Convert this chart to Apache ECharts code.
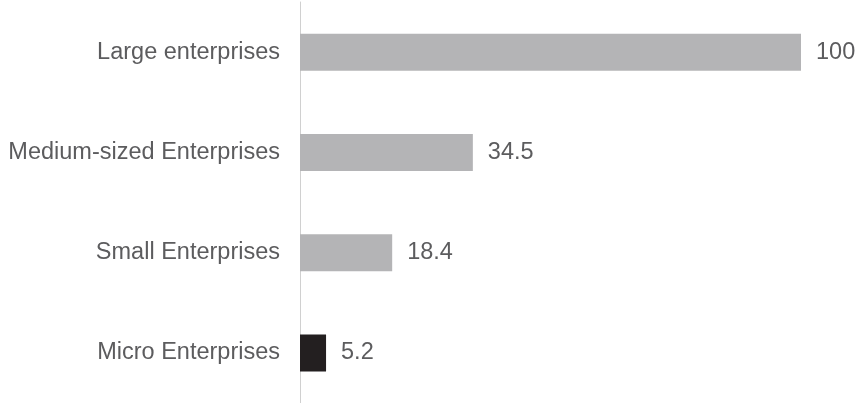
<!DOCTYPE html>
<html>
<head>
<meta charset="utf-8">
<script src="https://cdn.jsdelivr.net/npm/echarts@6/dist/echarts.min.js"></script>
<style>
  html, body { margin: 0; padding: 0; background: #ffffff; }
  #chart { width: 859px; height: 403px; }
</style>
</head>
<body>
<div id="chart"></div>
<script>
// Enterprise size classes, listed top to bottom
const categories = ['Large enterprises', 'Medium-sized Enterprises', 'Small Enterprises', 'Micro Enterprises'];
// Index values (large enterprises = 100)
const values = [100, 34.5, 18.4, 5.2];
// Fill per bar: the micro class is highlighted
const barColors = ['#b4b4b6', '#b4b4b6', '#b4b4b6', '#231f20'];

const chart = echarts.init(document.getElementById('chart'), null, { renderer: 'canvas' });

chart.setOption({
  animation: false,
  backgroundColor: '#ffffff',
  grid: { left: 300, width: 501, top: 2, height: 404, containLabel: false },
  xAxis: {
    type: 'value',
    min: 0,
    max: 100,
    show: false
  },
  yAxis: {
    type: 'category',
    inverse: true,
    data: categories,
    axisLine: { show: true, lineStyle: { color: '#d0d0d0', width: 1 } },
    axisTick: { show: false },
    splitLine: { show: false },
    axisLabel: {
      margin: 20,
      color: '#5c5c5e',
      fontSize: 23.5,
      fontFamily: 'Liberation Sans, Arial, sans-serif'
    }
  },
  series: [{
    type: 'bar',
    data: values.map((v, i) => ({ value: v, itemStyle: { color: barColors[i] } })),
    barWidth: 37,
    label: {
      show: true,
      position: 'right',
      distance: 15,
      color: '#5c5c5e',
      fontSize: 23.5,
      fontFamily: 'Liberation Sans, Arial, sans-serif'
    }
  }]
});
</script>
</body>
</html>
